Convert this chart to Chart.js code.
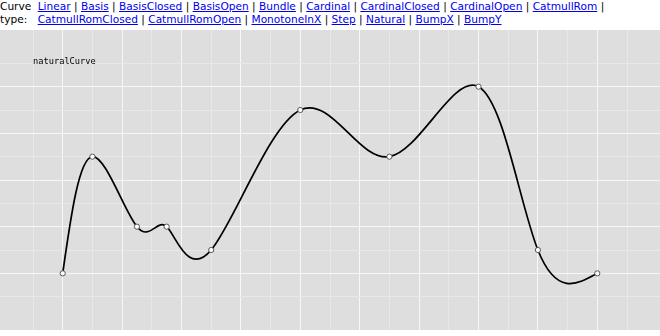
<!DOCTYPE html>
<html>
<head>
<meta charset="utf-8">
<script src="https://cdn.jsdelivr.net/npm/chart.js@4/dist/chart.umd.min.js"></script>
<style>
  html, body { margin: 0; padding: 0; background: #fff; }
  body { width: 660px; height: 336px; overflow: hidden; position: relative;
         font-family: "DejaVu Sans", sans-serif; font-size: 10.6px; color: #000; }
  #hdr { display: flex; height: 30px; line-height: 13px; }
  #lbl { width: 37.7px; flex: none; }
  #links { flex: 1; }
  #links a { color: #0000ee; text-decoration: underline; }
  #wrap { position: absolute; left: 0; top: 30px; width: 660px; height: 300px; }
  #name { position: absolute; left: 33px; top: 56px; font-family: "DejaVu Sans Mono", monospace;
          font-size: 8.7px; line-height: 10px; color: #000; }
</style>
</head>
<body>
<div id="hdr">
  <div id="lbl">Curve<br>type:</div>
  <div id="links"></div>
</div>
<div id="wrap"><canvas id="c" width="660" height="300"></canvas></div>
<div id="name"></div>
<script>
// ---- data ----
const curveTypesLine1 = ['Linear', 'Basis', 'BasisClosed', 'BasisOpen', 'Bundle', 'Cardinal', 'CardinalClosed', 'CardinalOpen', 'CatmullRom'];
const curveTypesLine2 = ['CatmullRomClosed', 'CatmullRomOpen', 'MonotoneInX', 'Step', 'Natural', 'BumpX', 'BumpY'];
const curveLabel = 'naturalCurve';
const xValues = [1, 2, 3.5, 4.5, 6, 9, 12, 15, 17, 19];
const yValues = [1, 6, 3, 3, 2, 8, 6, 9, 2, 1];
const xGridTicks = [0, 1, 2, 3, 4, 5, 6, 7, 8, 9, 10, 11, 12, 13, 14, 15, 16, 17, 18, 19, 20];
const yGridTicks = [0, 1, 2, 3, 4, 5, 6, 7, 8, 9, 10];

// ---- header text ----
const linksEl = document.getElementById('links');
const mk = (arr) => arr.map(t => '<a href="#">' + t + '</a>').join(' | ');
linksEl.innerHTML = mk(curveTypesLine1) + ' |<br>' + mk(curveTypesLine2);
document.getElementById('name').textContent = curveLabel;

// ---- natural cubic spline control points (same maths as d3.curveNatural) ----
function controlPoints(x) {
  const n = x.length - 1;
  const a = new Array(n), b = new Array(n), r = new Array(n);
  let i, m;
  a[0] = 0; b[0] = 2; r[0] = x[0] + 2 * x[1];
  for (i = 1; i < n - 1; ++i) { a[i] = 1; b[i] = 4; r[i] = 4 * x[i] + 2 * x[i + 1]; }
  a[n - 1] = 2; b[n - 1] = 7; r[n - 1] = 8 * x[n - 1] + x[n];
  for (i = 1; i < n; ++i) { m = a[i] / b[i - 1]; b[i] -= m; r[i] -= m * r[i - 1]; }
  a[n - 1] = r[n - 1] / b[n - 1];
  for (i = n - 2; i >= 0; --i) a[i] = (r[i] - a[i + 1]) / b[i];
  b[n - 1] = (x[n] + a[n - 1]) / 2;
  for (i = 0; i < n - 1; ++i) b[i] = 2 * x[i + 1] - a[i + 1];
  return [a, b];
}

const naturalPlugin = {
  id: 'naturalCurve',
  beforeDatasetDraw(chart, args) {
    const meta = args.meta;
    const pts = meta.data;
    const line = meta.dataset;
    if (!line || pts.length < 3) return;
    line.updateControlPoints(chart.chartArea, meta.iScale.axis);
    const xs = pts.map(p => p.x), ys = pts.map(p => p.y);
    const [ax, bx] = controlPoints(xs);
    const [ay, by] = controlPoints(ys);
    for (let i = 0; i < pts.length - 1; i++) {
      pts[i].cp2x = ax[i]; pts[i].cp2y = ay[i];
      pts[i + 1].cp1x = bx[i]; pts[i + 1].cp1y = by[i];
    }
    line._path = undefined;
  }
};

const bgPlugin = {
  id: 'bg',
  beforeDraw(chart) {
    const ctx = chart.ctx;
    ctx.save();
    ctx.fillStyle = '#dedede';
    ctx.fillRect(0, 0, chart.width, chart.height);
    ctx.restore();
  }
};

const majorColor = '#f7f7f7';
const minorColor = '#e8e8e8';
const gridColor = (ctx) => (ctx.tick && Math.abs(ctx.tick.value % 2) === 1) ? majorColor : minorColor;

new Chart(document.getElementById('c'), {
  type: 'line',
  data: {
    datasets: [{
      data: xValues.map((x, i) => ({ x: x, y: yValues[i] })),
      borderColor: '#000',
      borderWidth: 1.7,
      tension: 0.4,
      fill: false,
      clip: false,
      pointRadius: 2.6,
      pointBorderWidth: 1,
      pointBorderColor: '#555',
      pointBackgroundColor: '#fff'
    }]
  },
  options: {
    responsive: false,
    animation: false,
    events: [],
    layout: { padding: 0, autoPadding: false },
    plugins: { legend: { display: false }, tooltip: { enabled: false }, title: { display: false } },
    scales: {
      x: {
        type: 'linear',
        min: -10 / 9,
        max: 20 + 10 / 9,
        afterBuildTicks: (s) => { s.ticks = xGridTicks.map(v => ({ value: v })); },
        ticks: { display: false },
        grid: { color: gridColor, lineWidth: 1, drawTicks: false },
        border: { display: false }
      },
      y: {
        type: 'linear',
        min: -10 / 7,
        max: 10 + 10 / 7,
        afterBuildTicks: (s) => { s.ticks = yGridTicks.map(v => ({ value: v })); },
        ticks: { display: false },
        grid: { color: gridColor, lineWidth: 1, drawTicks: false },
        border: { display: false }
      }
    }
  },
  plugins: [bgPlugin, naturalPlugin]
});
</script>
</body>
</html>
